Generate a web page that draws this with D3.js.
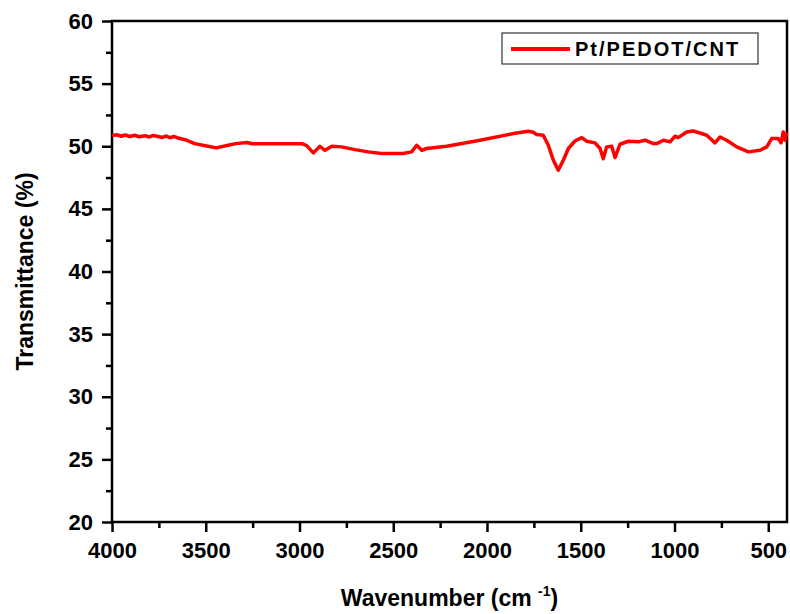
<!DOCTYPE html>
<html>
<head>
<meta charset="utf-8">
<script src="https://cdn.jsdelivr.net/npm/d3@7"></script>
<style>
  body { margin: 0; background: #fff; }
  text { font-family: Arial, "Liberation Sans", sans-serif; font-weight: bold; }
</style>
</head>
<body>
<script>
// FTIR spectrum
const wavenumber = [4000, 3975, 3950, 3930, 3904, 3880, 3855, 3824, 3800, 3780, 3755, 3730, 3710, 3691, 3670, 3648,
  3605, 3559, 3488, 3444, 3381, 3339, 3280, 3253, 2987, 2962, 2926, 2891, 2864, 2828, 2775, 2704, 2633, 2562,
  2448, 2402, 2375, 2348, 2322, 2215, 2037, 1860, 1780, 1753, 1735, 1700, 1673, 1646, 1620, 1593, 1566, 1531,
  1495, 1468, 1424, 1397, 1380, 1362, 1335, 1317, 1291, 1246, 1193, 1157, 1113, 1095, 1059, 1024, 997, 980,
  935, 900, 864, 828, 784, 757, 722, 668, 606, 544, 508, 482, 447, 432, 420, 411, 402]
const transmittance = [50.85, 50.92, 50.8, 50.9, 50.78, 50.88, 50.76, 50.84, 50.74, 50.86, 50.78, 50.7, 50.82, 50.68, 50.78, 50.66,
  50.5, 50.21, 50.0, 49.87, 50.08, 50.21, 50.3, 50.2, 50.2, 50.05, 49.47, 50.0, 49.68, 50.0, 49.95, 49.73, 49.55, 49.42,
  49.42, 49.55, 50.08, 49.68, 49.82, 50.0, 50.48, 51.01, 51.2, 51.12, 50.93, 50.88, 50.08, 48.88, 48.08, 48.88, 49.82, 50.42,
  50.69, 50.4, 50.27, 49.82, 49.0, 49.95, 50.0, 49.1, 50.16, 50.4, 50.35, 50.48, 50.21, 50.21, 50.48, 50.35, 50.8, 50.69,
  51.14, 51.22, 51.06, 50.88, 50.27, 50.74, 50.48, 49.95, 49.55, 49.68, 49.95, 50.61, 50.61, 50.27, 51.14, 50.48, 51.1]

const xTicks = [4000, 3500, 3000, 2500, 2000, 1500, 1000, 500]
const xMinor = [3750, 3250, 2750, 2250, 1750, 1250, 750]
const yTicks = [20, 25, 30, 35, 40, 45, 50, 55, 60]
const yMinor = [22.5, 27.5, 32.5, 37.5, 42.5, 47.5, 52.5, 57.5]
const seriesName = 'Pt/PEDOT/CNT'

const W = 790, H = 614
const pLeft = 112, pRight = 787, pTop = 21, pBottom = 522

const x = d3.scaleLinear().domain([4000, 400]).range([pLeft, pRight])
const y = d3.scaleLinear().domain([20, 60]).range([pBottom, pTop])

const svg = d3.select('body')
  .append('svg')
  .attr('width', W)
  .attr('height', H)

// frame
svg.append('rect')
  .attr('x', pLeft)
  .attr('y', pTop)
  .attr('width', pRight - pLeft)
  .attr('height', pBottom - pTop)
  .attr('fill', 'none')
  .attr('stroke', '#000')
  .attr('stroke-width', 2.5)

const xAxis = svg.append('g')
  .attr('transform', `translate(0, ${pBottom})`)
  .call(d3.axisBottom(x).tickValues(xTicks).tickSize(10).tickPadding(10).tickFormat(d3.format('d')))
xAxis.select('.domain').remove()

const xAxisMinor = svg.append('g')
  .attr('transform', `translate(0, ${pBottom})`)
  .call(d3.axisBottom(x).tickValues(xMinor).tickSize(6).tickFormat(''))
xAxisMinor.select('.domain').remove()

const yAxis = svg.append('g')
  .attr('transform', `translate(${pLeft}, 0)`)
  .call(d3.axisLeft(y).tickValues(yTicks).tickSize(10).tickPadding(9))
yAxis.select('.domain').remove()

const yAxisMinor = svg.append('g')
  .attr('transform', `translate(${pLeft}, 0)`)
  .call(d3.axisLeft(y).tickValues(yMinor).tickSize(6).tickFormat(''))
yAxisMinor.select('.domain').remove()

svg.selectAll('.tick line')
  .attr('stroke', '#000')
  .attr('stroke-width', 2.5)

svg.selectAll('.tick text')
  .attr('fill', '#000')
  .style('font-size', '22px')
  .style('font-family', 'Arial, "Liberation Sans", sans-serif')
  .style('font-weight', 'bold')

// spectrum
const pts = wavenumber.map((w, i) => ({w, t: transmittance[i]}))
const line = d3.line()
  .x(d => x(d.w))
  .y(d => y(d.t))

svg.append('path')
  .datum(pts)
  .attr('d', line)
  .attr('fill', 'none')
  .attr('stroke', '#ff0000')
  .attr('stroke-width', 3.5)
  .attr('stroke-linejoin', 'round')

// axis titles
const xt = svg.append('text')
  .attr('x', (pLeft + pRight) / 2)
  .attr('y', 606)
  .attr('text-anchor', 'middle')
  .style('font-size', '23px')
xt.append('tspan').text('Wavenumber (cm ')
xt.append('tspan').text('-1').attr('dy', -10).style('font-size', '14px')
xt.append('tspan').text(')').attr('dy', 10)

svg.append('text')
  .attr('transform', `translate(33, ${(pTop + pBottom) / 2}) rotate(-90)`)
  .attr('text-anchor', 'middle')
  .style('font-size', '23px')
  .text('Transmittance (%)')

// legend
const lg = svg.append('g')
lg.append('rect')
  .attr('x', 502)
  .attr('y', 33)
  .attr('width', 256)
  .attr('height', 31)
  .attr('fill', '#fff')
  .attr('stroke', '#333')
  .attr('stroke-width', 1.2)
lg.append('line')
  .attr('x1', 511)
  .attr('x2', 570)
  .attr('y1', 49)
  .attr('y2', 49)
  .attr('stroke', '#ff0000')
  .attr('stroke-width', 4)
lg.append('text')
  .attr('x', 575)
  .attr('y', 56)
  .style('font-size', '20px')
  .style('letter-spacing', '2px')
  .text(seriesName)
</script>
</body>
</html>
